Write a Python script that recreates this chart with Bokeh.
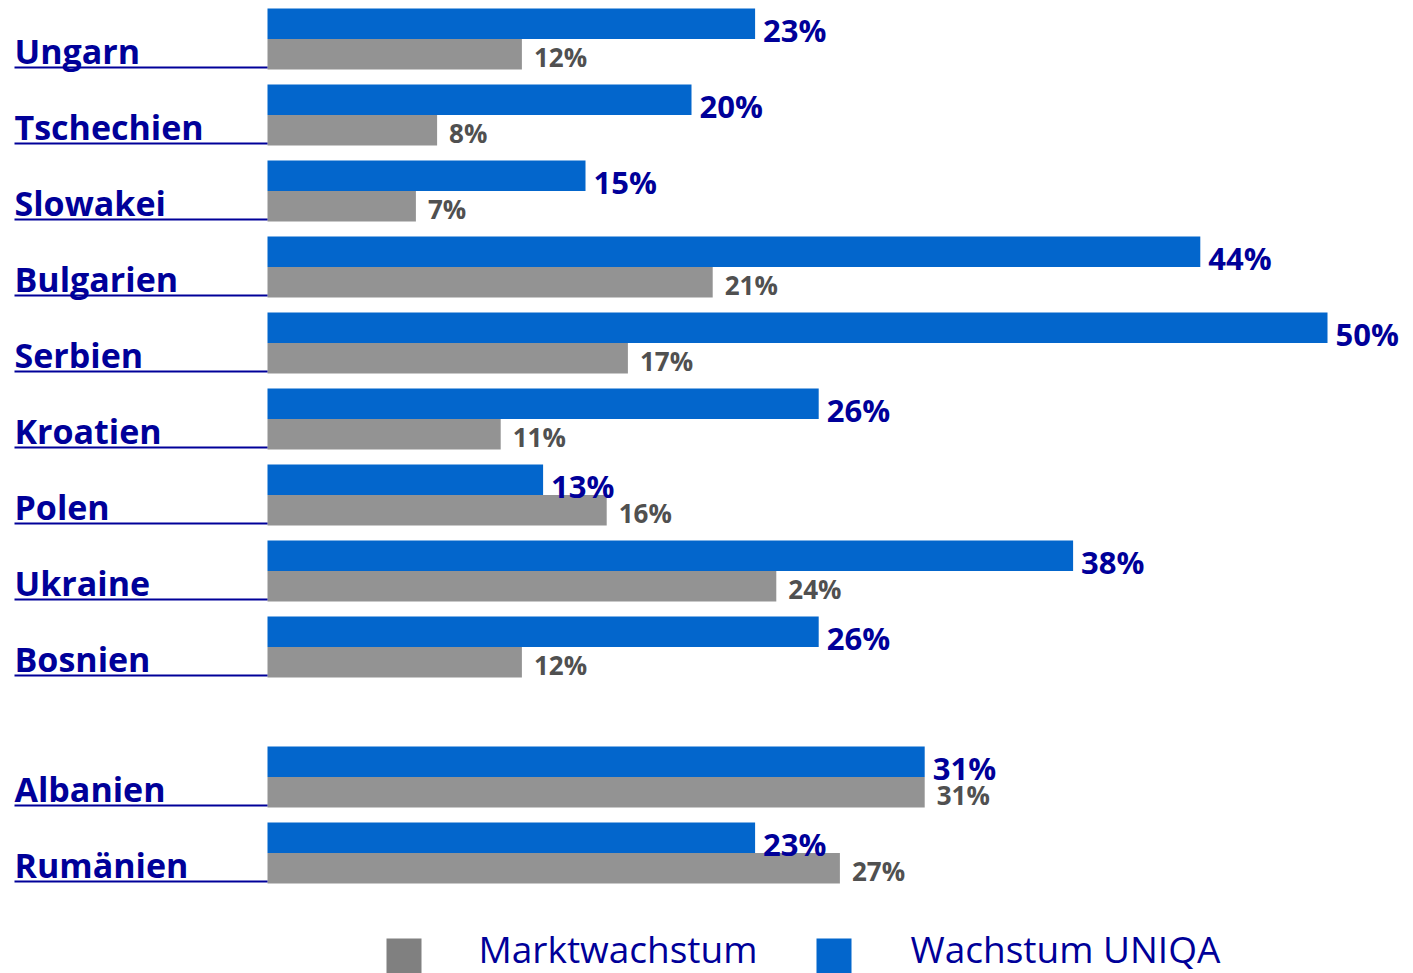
from bokeh.plotting import figure
from bokeh.models import Range1d, ColumnDataSource
from bokeh.core.properties import value
from bokeh.embed import file_html
from bokeh.resources import INLINE

countries = ["Ungarn", "Tschechien", "Slowakei", "Bulgarien", "Serbien", "Kroatien",
             "Polen", "Ukraine", "Bosnien", "Albanien", "Rumänien"]
uniqa = [23, 20, 15, 44, 50, 26, 13, 38, 26, 31, 23]
market = [12, 8, 7, 21, 17, 11, 16, 24, 12, 31, 27]
legend_labels = ["Marktwachstum", "Wachstum UNIQA"]

BLUE = "#0366CC"
GRAY = "#939393"
NAVY = "#000099"
DARKGRAY = "#505050"
FONT = value("Open Sans")

W, H = 1413, 973
PX = 21.2          # pixels per percent
X0 = 267           # bar origin, px from figure left
xs = -X0 / PX
xe = xs + W / PX

p = figure(width=W, height=H, x_range=Range1d(xs, xe), y_range=Range1d(H, 0),
           output_backend="svg", toolbar_location=None, min_border=0,
           outline_line_color=None, background_fill_color="white")
p.axis.visible = False
p.grid.visible = False

n = len(countries)
tops = [8 + 76 * i + (54 if i >= 9 else 0) for i in range(n)]
src = ColumnDataSource(dict(
    country=countries,
    uniqa=uniqa,
    market=market,
    blue_y=[t + 15.25 for t in tops],
    gray_y=[t + 45.75 for t in tops],
    label_y=[t + 42 for t in tops],
    line_y=[t + 59 for t in tops],
    blue_ty=[t + 21 for t in tops],
    gray_ty=[t + 48 for t in tops],
    blue_tx=[v + 8 / PX for v in uniqa],
    gray_tx=[v + 12 / PX for v in market],
    uniqa_txt=[f"{v}%" for v in uniqa],
    market_txt=[f"{v}%" for v in market],
))

p.hbar(y="blue_y", left=0, right="uniqa", height=30.5, fill_color=BLUE,
       line_color=None, source=src)
p.hbar(y="gray_y", left=0, right="market", height=30.5, fill_color=GRAY,
       line_color=None, source=src)

lx = xs + 14 / PX
p.segment(x0=lx, x1=0, y0="line_y", y1="line_y", line_color=NAVY, line_width=2,
          source=src)
p.text(x=lx, y="label_y", text="country", text_font=FONT, text_font_style="bold",
       text_font_size="34px", text_color=NAVY, text_baseline="middle",
       text_align="left", source=src)

p.text(x="blue_tx", y="blue_ty", text="uniqa_txt", text_font=FONT,
       text_font_style="bold", text_font_size="31px", text_color=NAVY,
       text_baseline="middle", source=src)
p.text(x="gray_tx", y="gray_ty", text="market_txt", text_font=FONT,
       text_font_style="bold", text_font_size="26px", text_color=DARKGRAY,
       text_baseline="middle", source=src)

# legend
leg_colors = ["#808080", BLUE]
leg_sq_left = [386, 816]
leg_txt_left = [478, 910]
for lab, col, sq, tx in zip(legend_labels, leg_colors, leg_sq_left, leg_txt_left):
    p.quad(left=xs + sq / PX, right=xs + (sq + 35) / PX, top=938, bottom=973,
           fill_color=col, line_color=None)
    p.text(x=[xs + tx / PX], y=[948], text=[lab], text_font=FONT,
           text_font_style="normal", text_font_size="37px", text_color=NAVY,
           text_baseline="middle")

open("out.html", "w").write(file_html(p, INLINE))
